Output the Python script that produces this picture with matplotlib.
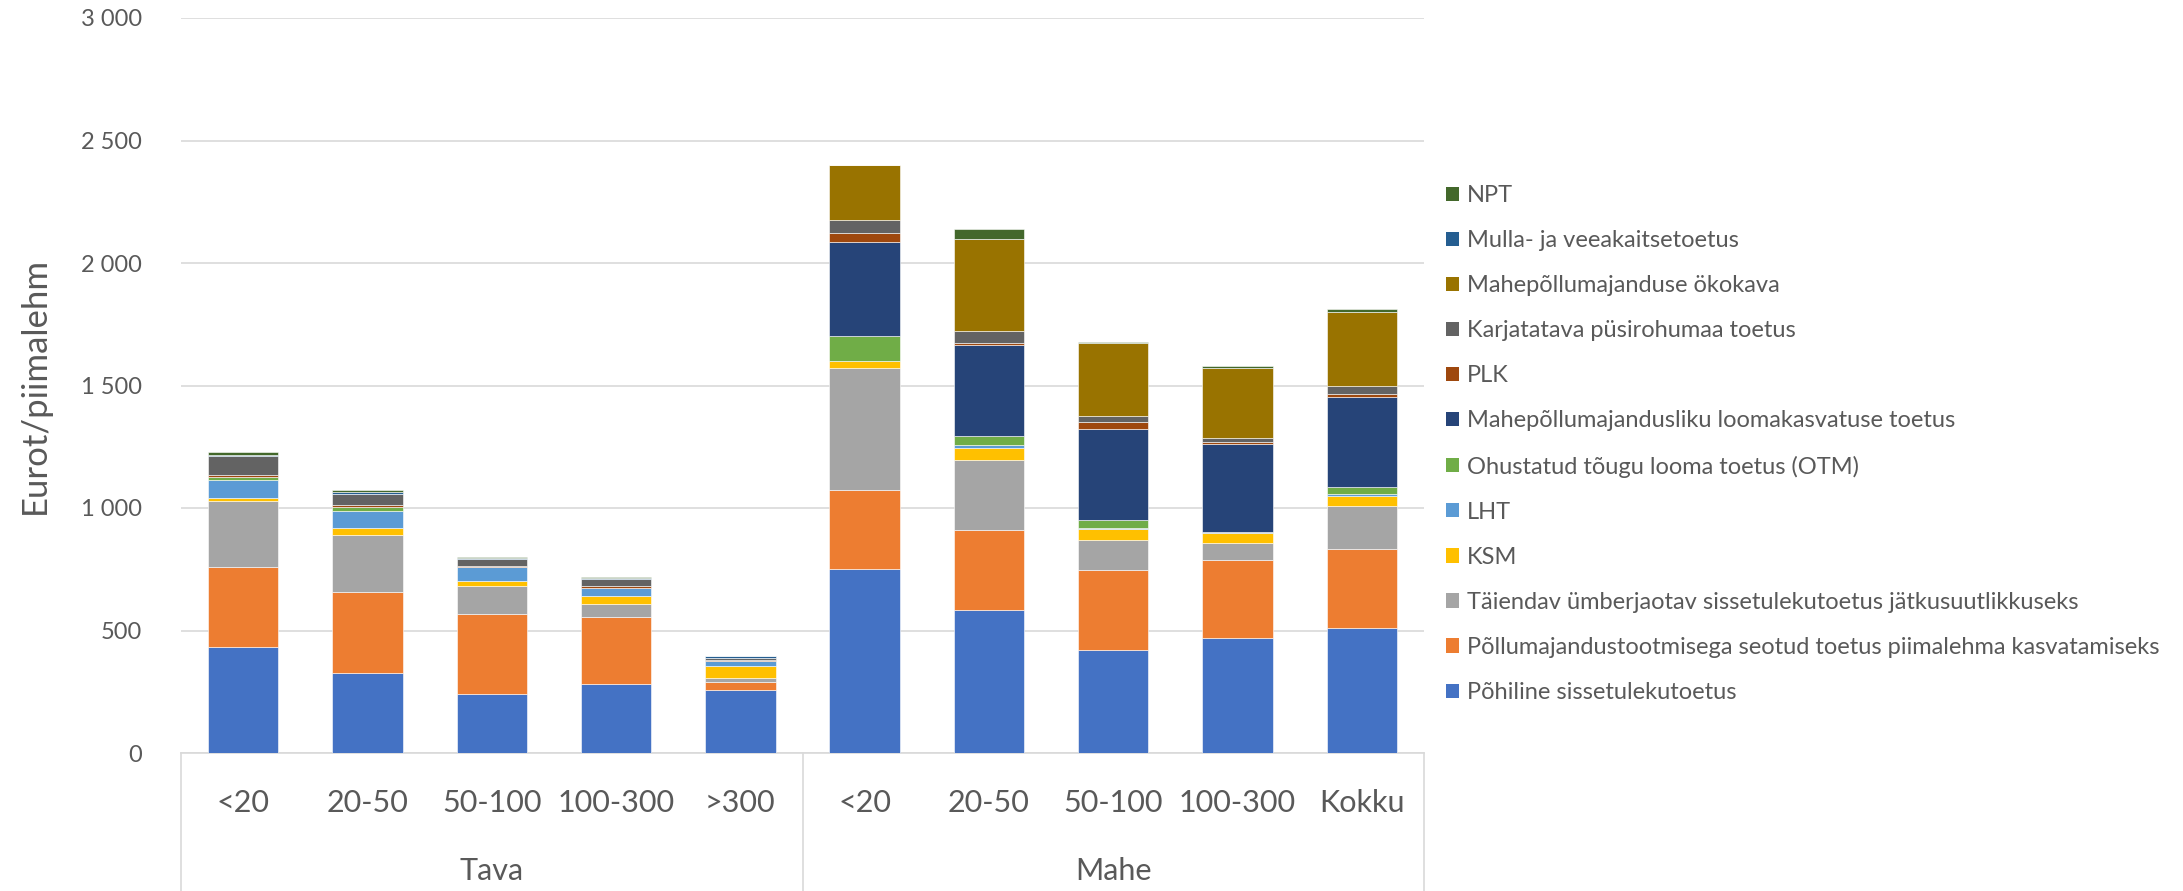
import matplotlib
matplotlib.use("Agg")
import matplotlib.pyplot as plt
import matplotlib.transforms as mtransforms
from matplotlib.patches import Patch
from matplotlib.ticker import FuncFormatter, MultipleLocator
import numpy as np

plt.rcParams['font.family'] = ['Lato', 'DejaVu Sans']

# ---------------- data ----------------
groups = ["Tava", "Mahe"]
categories = ["<20", "20-50", "50-100", "100-300", ">300",
              "<20", "20-50", "50-100", "100-300", "Kokku"]
group_sizes = [5, 5]

series_names = [
    "Põhiline sissetulekutoetus",
    "Põllumajandustootmisega seotud toetus piimalehma kasvatamiseks",
    "Täiendav ümberjaotav sissetulekutoetus jätkusuutlikkuseks",
    "KSM",
    "LHT",
    "Ohustatud tõugu looma toetus (OTM)",
    "Mahepõllumajandusliku loomakasvatuse toetus",
    "PLK",
    "Karjatatava püsirohumaa toetus",
    "Mahepõllumajanduse ökokava",
    "Mulla- ja veeakaitsetoetus",
    "NPT",
]

pohiline   = [434, 328, 239, 283, 257, 751, 585, 420, 470, 512]
pollu      = [327, 328, 328, 274,  33, 323, 327, 327, 318, 322]
taiendav   = [268, 233, 113,  51,  17, 496, 282, 124,  69, 176]
ksm        = [ 12,  28,  22,  34,  48,  32,  51,  44,  41,  41]
lht        = [ 75,  72,  56,  31,  22,   0,  13,   5,   5,   5]
otm        = [ 10,  14,   2,   2,   0, 101,  35,  33,   0,  30]
mahe_looma = [  0,   0,   0,   0,   0, 381, 374, 371, 360, 366]
plk        = [  8,   9,   5,   7,   3,  38,   5,  26,   5,  13]
karja      = [ 78,  45,  26,  27,   9,  53,  49,  25,  16,  33]
okokava    = [  0,   0,   0,   0,   0, 226, 378, 299, 286, 301]
mulla      = [  3,   9,   5,   5,   6,   0,   0,   0,   0,   0]
npt        = [ 15,   6,   3,   3,   1,   0,  41,   2,  10,  14]

series_values = [pohiline, pollu, taiendav, ksm, lht, otm, mahe_looma,
                 plk, karja, okokava, mulla, npt]
series_colors = ["#4472C4", "#ED7D31", "#A5A5A5", "#FFC000", "#5B9BD5",
                 "#70AD47", "#264478", "#9E480E", "#636363", "#997300",
                 "#255E91", "#43682B"]

# ---------------- figure ----------------
W, H = 2183, 891
fig = plt.figure(figsize=(W / 100, H / 100), dpi=100)
ax = fig.add_axes([181 / W, 1 - 753 / H, (1424 - 181) / W, (753 - 18) / H])

x = np.arange(len(categories))
bottom = np.zeros(len(categories))
handles = []
for name, vals, col in zip(series_names, series_values, series_colors):
    v = np.array(vals, dtype=float)
    ax.bar(x, v, bottom=bottom, width=0.567, color=col,
           edgecolor="white", linewidth=0.4, label=name, zorder=3)
    bottom += v
    handles.append(Patch(facecolor=col, edgecolor="none", label=name))

ax.set_xlim(-0.5, len(categories) - 0.5)
ax.set_ylim(0, 3000)
ax.yaxis.set_major_locator(MultipleLocator(500))
ax.yaxis.set_major_formatter(FuncFormatter(lambda v, p: f"{int(v):,}".replace(",", " ")))
ax.grid(axis="y", color="#D9D9D9", linewidth=1.2, zorder=0)
ax.set_axisbelow(True)
ax.tick_params(axis="y", length=0, pad=28, labelsize=17, labelcolor="#595959")
ax.tick_params(axis="x", length=0, labelbottom=False)
for s in ["top", "right", "left"]:
    ax.spines[s].set_visible(False)
ax.spines["bottom"].set_color("#D9D9D9")
ax.spines["bottom"].set_linewidth(1.2)

trans = mtransforms.blended_transform_factory(ax.transData, ax.transAxes)
# category labels
for xi, lab in zip(x, categories):
    ax.text(xi, -0.068, lab, transform=trans, ha="center", va="center",
            fontsize=22, color="#595959")
# group labels and dividers
bottom_axes = -(H - 753) / (753 - 18) - 0.01
start = 0
edges = [-0.5]
for g, n in zip(groups, group_sizes):
    center = start + (n - 1) / 2
    ax.text(center, -0.1605, g, transform=trans, ha="center", va="center",
            fontsize=22, color="#595959")
    start += n
    edges.append(start - 0.5)
for e in edges:
    ax.plot([e, e], [0, bottom_axes], transform=trans, color="#D9D9D9",
            linewidth=1.2, clip_on=False)

# y label
fig.text(35 / W, 1 - 385 / H, "Eurot/piimalehm", rotation=90, ha="center",
         va="center", fontsize=25, color="#595959")

# legend (reversed order)
leg = fig.legend(handles=handles[::-1], loc="center left",
                 bbox_to_anchor=(1446 / W, 1 - 444 / H), frameon=False,
                 fontsize=17, labelcolor="#595959", handlelength=0.55,
                 handleheight=0.55, handletextpad=0.35, labelspacing=1.02,
                 borderpad=0, borderaxespad=0)

fig.savefig("out.png", dpi=100)
